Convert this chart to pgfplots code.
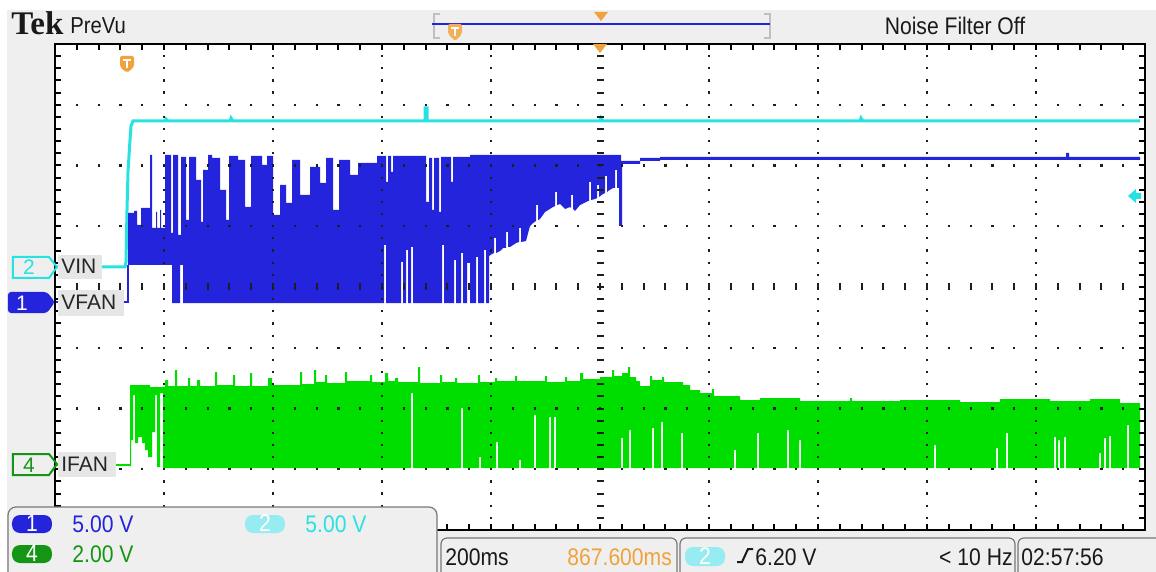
\documentclass[border=0pt]{standalone}
\usepackage{pgfplots}
\pgfplotsset{compat=1.18}
\usepackage{fontspec}
\setmainfont{Liberation Sans}
\newfontfamily\tekfont[FakeStretch=0.88]{Liberation Sans}
\newfontfamily\logofont{Liberation Serif}
\newcommand\scopefont{\tekfont\fontsize{12pt}{14pt}\selectfont}
\newcommand\lblfont{\fontsize{10.5pt}{12pt}\selectfont}

\definecolor{chblue}{RGB}{36,36,220}
\definecolor{chcyan}{RGB}{40,226,226}
\definecolor{chgreen}{RGB}{0,222,0}
\definecolor{dkgreen}{RGB}{20,150,20}
\definecolor{tekorange}{RGB}{240,162,60}
\definecolor{panel}{RGB}{239,239,239}
\definecolor{lblbox}{RGB}{230,230,230}
\definecolor{badgecyan}{RGB}{150,236,240}
\definecolor{edge}{RGB}{120,120,120}
\definecolor{dotc}{RGB}{30,30,30}

\tikzset{
  hdots/.style={dotc, line width=1.1pt, dash pattern=on 1.1pt off 9.8pt, dash phase=0.55pt},
  vdots/.style={dotc, line width=1.1pt, dash pattern=on 1.1pt off 4.975pt, dash phase=0.55pt},
}

\begin{document}
\begin{tikzpicture}
\begin{axis}[
    scale only axis, width=545pt, height=243pt,
    xmin=55, xmax=1145, ymin=44, ymax=530, y dir=reverse,
    hide axis, clip=false, at={(0,0)}, anchor=south west,
  ]
  % screen background
  \coordinate (imgTL) at (axis cs:0,0);
  \coordinate (imgBR) at (axis cs:1156,572);
  \fill[white] (axis cs:0,0) rectangle (axis cs:1156,572);
  \fill[panel] (axis cs:7,10) rectangle (axis cs:1156,572);
  \fill[white] (axis cs:55,44) rectangle (axis cs:1145,530);

  % CH2 VIN
  \addplot[chcyan, line width=1.5pt, mark=none] coordinates {
    (55,267) (125,267) (126,262) (127,210) (128,172) (130,140) (131,126) (133,121)
    (165,121) (166,119) (168,121) (230,121) (231,118) (233,121) (425,121) (425,108)
    (427,108) (427,121) (600,121) (601,118) (603,121) (860,121) (861,118) (863,121)
    (1140,121)};

  % CH1 VFAN
  \addplot[chblue, line width=1.2pt, mark=none] coordinates {(55,302) (128,302) (128,265)};
  \addplot[fill=chblue, draw=none, mark=none] coordinates {
    (128,265) (128,213) (134,213) (134,211) (137,211) (137,225) (141,225) (141,208)
    (150,208) (150,155) (152,155) (152,228) (156,228) (156,212) (157,212) (157,228)
    (160,228) (160,210) (161,210) (161,228) (165,228) (165,155) (171,155) (171,233)
    (173,233) (173,155) (178,155) (178,235) (181,235) (181,157) (186,157) (186,220)
    (189,220) (189,157) (196,157) (196,180) (201,180) (201,222) (203,222) (203,170)
    (208,170) (208,155) (212,155) (212,158) (220,158) (220,190) (226,190) (226,220)
    (229,220) (229,156) (238,156) (238,160) (245,160) (245,207) (251,207) (251,156)
    (262,156) (262,165) (267,165) (267,156) (273,156) (273,215) (280,215) (280,185)
    (286,185) (286,203) (292,203) (292,160) (300,160) (300,195) (310,195) (310,167)
    (320,167) (320,183) (326,183) (326,158) (333,158) (333,210) (339,210) (339,160)
    (350,160) (350,175) (358,175) (358,163) (377,163) (377,156) (386,156) (386,182)
    (388,182) (388,156) (391,156) (391,172) (393,172) (393,156) (426,156) (426,202)
    (429,202) (429,158) (432,158) (432,210) (434,210) (434,158) (439,158) (439,212)
    (441,212) (441,157) (451,157) (451,182) (453,182) (453,157) (470,157) (470,155)
    (621,155) (621,161) (640,161) (640,158) (660,158) (660,157) (1066,157) (1066,153)
    (1069,153) (1069,157) (1140,157)
    (1140,160) (660,160) (660,161) (640,161) (640,164) (622,164) (622,226) (619,226)
    (619,188) (617,188) (617,170) (615,170) (615,188) (613,188) (608,191) (607,192)
    (607,176) (605,176) (605,193) (603,194) (599,197) (599,185) (597,185) (597,198)
    (595,199) (591,200) (591,182) (589,182) (589,201) (588,201) (580,205) (575,211)
    (573,209) (573,195) (571,195) (571,208) (570,207) (565,209) (560,204) (557,205)
    (557,192) (555,192) (555,206) (553,207) (545,212) (540,219) (538,220) (538,205)
    (536,205) (536,221) (533,223) (530,226) (526,241) (521,242) (521,228) (519,228)
    (519,242) (516,243) (510,247) (508,247) (508,232) (506,232) (506,248) (503,248)
    (500,251) (496,253) (496,238) (494,238) (494,253) (492,254) (489,256) (489,303)
    (486,303) (486,250) (484,250) (484,303) (478,303) (478,257) (476,257) (476,303)
    (470,303) (470,263) (467,263) (467,303) (463,303) (463,253) (461,253) (461,303)
    (456,303) (456,260) (454,260) (454,303) (444,303) (444,245) (442,245) (442,303)
    (413,303) (413,247) (411,247) (411,303) (408,303) (408,250) (406,250) (406,303)
    (403,303) (403,262) (401,262) (401,303) (386,303) (386,245) (384,245) (384,303)
    (183,303) (183,265) (180,265) (180,303) (172,303) (172,265) (128,265)};

  % CH4 IFAN
  \addplot[chgreen, line width=1.2pt, mark=none] coordinates {(55,465) (131,465)};
  \addplot[fill=chgreen, draw=none, mark=none] coordinates {
    (130,385) (150,385) (150,387) (165,387) (165,380) (168,380) (168,386) (175,386)
    (175,370) (177,370) (177,386) (188,386) (188,378) (190,378) (190,386) (197,386)
    (197,380) (200,380) (200,386) (215,386) (215,372) (217,372) (217,385) (233,385)
    (233,375) (235,375) (235,386) (250,386) (250,373) (252,373) (252,386) (268,386)
    (268,378) (272,378) (272,385) (300,385) (300,372) (302,372) (302,384) (314,384)
    (314,370) (316,370) (316,382) (325,382) (325,375) (327,375) (327,383) (345,383)
    (345,372) (347,372) (347,381) (370,381) (370,375) (372,375) (372,382) (385,382)
    (385,373) (388,373) (388,381) (395,381) (395,378) (398,378) (398,382) (418,382)
    (418,367) (420,367) (420,383) (440,383) (440,375) (442,375) (442,382) (455,382)
    (455,378) (457,378) (457,383) (478,383) (478,375) (480,375) (480,382) (495,382)
    (495,378) (497,378) (497,381) (515,381) (515,376) (517,376) (517,381) (545,381)
    (545,376) (547,376) (547,382) (565,382) (565,377) (567,377) (567,381) (580,381)
    (580,373) (583,373) (583,379) (600,379) (600,377) (612,377) (612,370) (614,370)
    (614,376) (622,376) (622,373) (628,373) (628,367) (630,367) (630,377) (636,377)
    (636,381) (640,381) (640,386) (650,386) (650,376) (652,376) (652,380) (662,380)
    (662,377) (664,377) (664,382) (683,382) (683,385) (690,385) (690,390) (700,390)
    (700,393) (712,393) (712,389) (714,389) (714,396) (740,396) (740,400) (760,400)
    (760,398) (800,398) (800,401) (850,401) (850,398) (852,398) (852,401) (900,401)
    (900,400) (960,400) (960,402) (1000,402) (1000,399) (1050,399) (1050,401) (1090,401)
    (1090,399) (1120,399) (1120,403) (1140,403)
    (1140,468) (1129,468) (1129,425) (1127,425) (1127,468) (1111,468) (1111,436) (1109,436)
    (1109,468) (1106,468) (1106,438) (1104,438) (1104,468) (1101,468) (1101,453) (1099,453)
    (1099,468) (1066,468) (1066,437) (1064,437) (1064,468) (1060,468) (1060,440) (1058,440)
    (1058,468) (1056,468) (1056,437) (1054,437) (1054,468) (1008,468) (1008,433) (1006,433)
    (1006,468) (998,468) (998,448) (996,448) (996,468) (936,468) (936,445) (934,445)
    (934,468) (801,468) (801,440) (799,440) (799,468) (789,468) (789,430) (787,430)
    (787,468) (759,468) (759,433) (757,433) (757,468) (736,468) (736,450) (734,450)
    (734,468) (683,468) (683,433) (681,433) (681,468) (663,468) (663,422) (661,422)
    (661,468) (654,468) (654,428) (652,428) (652,468) (631,468) (631,430) (629,430)
    (629,468) (623,468) (623,438) (621,438) (621,468) (556,468) (556,417) (554,417)
    (554,468) (551,468) (551,417) (549,417) (549,468) (536,468) (536,415) (534,415)
    (534,468) (521,468) (521,460) (519,460) (519,468) (498,468) (498,442) (496,442)
    (496,468) (481,468) (481,457) (479,457) (479,468) (463,468) (463,408) (461,408)
    (461,468) (413,468) (413,393) (411,393) (411,468) (166,468) (163,468) (163,393)
    (160,393) (160,467) (157,467) (157,395) (155,395) (155,432) (152,432) (152,457)
    (148,457) (148,450) (145,450) (145,443) (142,443) (142,437) (138,437) (138,443)
    (135,443) (135,395) (133,395) (133,440) (131,440) (131,466) (130,466)};

  % graticule
  \pgfplotsinvokeforeach{104.75,165.5,226.25,347.75,408.5,469.25}{
    \draw[hdots] (axis cs:55,#1) -- (axis cs:1145,#1);}
  \pgfplotsinvokeforeach{164,273,382,491,709,818,927,1036}{
    \draw[vdots] (axis cs:#1,44) -- (axis cs:#1,530);}
  \draw[dotc, line width=3.5pt, dash pattern=on 1pt off 9.9pt, dash phase=0.5pt]
    (axis cs:55,287) -- (axis cs:1145,287);
  \draw[dotc, line width=3.5pt, dash pattern=on 1pt off 5.075pt, dash phase=0.5pt]
    (axis cs:600,44) -- (axis cs:600,530);
  \draw[black, line width=3pt, dash pattern=on 1pt off 9.9pt, dash phase=0.5pt]
    (axis cs:55,47) -- (axis cs:1145,47) (axis cs:55,527) -- (axis cs:1145,527);
  \draw[black, line width=3pt, dash pattern=on 1pt off 5.075pt, dash phase=0.5pt]
    (axis cs:58,44) -- (axis cs:58,530) (axis cs:1142,44) -- (axis cs:1142,530);
  \draw[black, line width=1pt] (axis cs:55,44) rectangle (axis cs:1145,530);

  % markers on the graticule
  \fill[tekorange] (axis cs:593,44) -- (axis cs:607,44) -- (axis cs:600,53) -- cycle;
  \fill[tekorange, rounded corners=1pt] (axis cs:120,56) -- (axis cs:134,56) -- (axis cs:134,67)
    -- (axis cs:127,73) -- (axis cs:120,67) -- cycle;
  \draw[white, line width=1pt] (axis cs:123,60) -- (axis cs:131,60) (axis cs:127,60) -- (axis cs:127,68);
  \fill[chcyan] (axis cs:1128,196) -- (axis cs:1136,189) -- (axis cs:1136,193) -- (axis cs:1141,193)
    -- (axis cs:1141,199) -- (axis cs:1136,199) -- (axis cs:1136,203) -- cycle;

  % channel markers and labels
  \fill[panel] (axis cs:8,257) rectangle (axis cs:54,278);
  \draw[chcyan, line width=1pt] (axis cs:13,257) -- (axis cs:49,257) -- (axis cs:57,267)
    -- (axis cs:49,278) -- (axis cs:13,278) -- cycle;
  \node[chcyan, font=\lblfont, inner sep=0pt, anchor=base] at (axis cs:29,275) {2};
  \fill[chblue, rounded corners=1.5pt] (axis cs:8,292) -- (axis cs:47,292) -- (axis cs:55,302)
    -- (axis cs:47,313) -- (axis cs:8,313) -- cycle;
  \node[white, font=\lblfont, inner sep=0pt, anchor=base] at (axis cs:22,310) {1};
  \fill[panel] (axis cs:12,454) rectangle (axis cs:54,475);
  \draw[dkgreen, line width=1pt] (axis cs:13,454) -- (axis cs:49,454) -- (axis cs:57,464)
    -- (axis cs:49,475) -- (axis cs:13,475) -- cycle;
  \node[dkgreen, font=\lblfont, inner sep=0pt, anchor=base] at (axis cs:29,472) {4};

  \fill[lblbox] (axis cs:58,255) rectangle (axis cs:102,279);
  \node[black!85, font=\lblfont, inner sep=0pt, anchor=base west] at (axis cs:61,274) {VIN};
  \fill[lblbox] (axis cs:58,290) rectangle (axis cs:124,316);
  \node[black!85, font=\lblfont, inner sep=0pt, anchor=base west] at (axis cs:61,309) {VFAN};
  \fill[lblbox] (axis cs:58,452) rectangle (axis cs:116,477);
  \node[black!85, font=\lblfont, inner sep=0pt, anchor=base west] at (axis cs:61,471) {IFAN};

  % top bar
  \node[black!90, font=\logofont\bfseries\fontsize{16.5pt}{18pt}\selectfont, inner sep=0pt, anchor=base west]
    at (axis cs:11,35) {Tek};
  \node[black!90, font=\tekfont\fontsize{11.5pt}{13pt}\selectfont, inner sep=0pt, anchor=base west]
    at (axis cs:70,34) {PreVu};
  \draw[black!25, line width=1pt] (axis cs:440,14) -- (axis cs:434,14) -- (axis cs:434,38) -- (axis cs:440,38);
  \draw[black!25, line width=1pt] (axis cs:764,14) -- (axis cs:770,14) -- (axis cs:770,38) -- (axis cs:764,38);
  \draw[chblue, line width=1.2pt] (axis cs:432,24) -- (axis cs:770,24);
  \fill[tekorange] (axis cs:594,12) -- (axis cs:608,12) -- (axis cs:601,21) -- cycle;
  \fill[tekorange!85, rounded corners=1pt] (axis cs:448,24) -- (axis cs:462,24) -- (axis cs:462,34)
    -- (axis cs:455,41) -- (axis cs:448,34) -- cycle;
  \draw[white, line width=1pt] (axis cs:451,28) -- (axis cs:459,28) (axis cs:455,28) -- (axis cs:455,36);
  \node[black!90, font=\scopefont, inner sep=0pt, anchor=base] at (axis cs:955,35) {Noise Filter Off};

  % bottom-left readout
  \filldraw[fill=panel, draw=edge, line width=0.6pt, rounded corners=4pt]
    (axis cs:8,507) rectangle (axis cs:437,590);
  \fill[chblue, rounded corners=4pt] (axis cs:12,515) rectangle (axis cs:52,533);
  \node[white, font=\scopefont, inner sep=0pt, anchor=base] at (axis cs:32,531) {1};
  \node[chblue, font=\scopefont, inner sep=0pt, anchor=base west] at (axis cs:72,532) {5.00 V};
  \fill[badgecyan, rounded corners=4pt] (axis cs:245,515) rectangle (axis cs:285,533);
  \node[white, font=\scopefont, inner sep=0pt, anchor=base] at (axis cs:265,531) {2};
  \node[chcyan, font=\scopefont, inner sep=0pt, anchor=base west] at (axis cs:305,532) {5.00 V};
  \fill[dkgreen, rounded corners=4pt] (axis cs:12,545) rectangle (axis cs:52,563);
  \node[white, font=\scopefont, inner sep=0pt, anchor=base] at (axis cs:32,561) {4};
  \node[dkgreen, font=\scopefont, inner sep=0pt, anchor=base west] at (axis cs:72,562) {2.00 V};

  % bottom-right readouts
  \filldraw[fill=panel, draw=edge, line width=0.6pt, rounded corners=3pt]
    (axis cs:441,538) rectangle (axis cs:677,590);
  \filldraw[fill=panel, draw=edge, line width=0.6pt, rounded corners=3pt]
    (axis cs:680,538) rectangle (axis cs:1015,590);
  \filldraw[fill=panel, draw=edge, line width=0.6pt, rounded corners=3pt]
    (axis cs:1018,538) rectangle (axis cs:1180,590);
  \node[black!90, font=\scopefont, inner sep=0pt, anchor=base west] at (axis cs:445,565) {200ms};
  \node[tekorange, font=\scopefont, inner sep=0pt, anchor=base west] at (axis cs:567,565) {867.600ms};
  \fill[badgecyan, rounded corners=4pt] (axis cs:685,547) rectangle (axis cs:725,566);
  \node[white, font=\scopefont, inner sep=0pt, anchor=base] at (axis cs:705,564) {2};
  \draw[black!90, line width=1pt] (axis cs:737,562) -- (axis cs:742,562) -- (axis cs:748,549) -- (axis cs:753,549);
  \node[black!90, font=\scopefont, inner sep=0pt, anchor=base west] at (axis cs:755,565) {6.20 V};
  \node[black!90, font=\scopefont, inner sep=0pt, anchor=base east] at (axis cs:1013,565) {< 10 Hz};
  \node[black!90, font=\scopefont, inner sep=0pt, anchor=base west] at (axis cs:1021,565) {02:57:56};
\end{axis}
\pgfresetboundingbox
\path[use as bounding box] (imgTL) rectangle (imgBR);
\end{tikzpicture}
\end{document}
